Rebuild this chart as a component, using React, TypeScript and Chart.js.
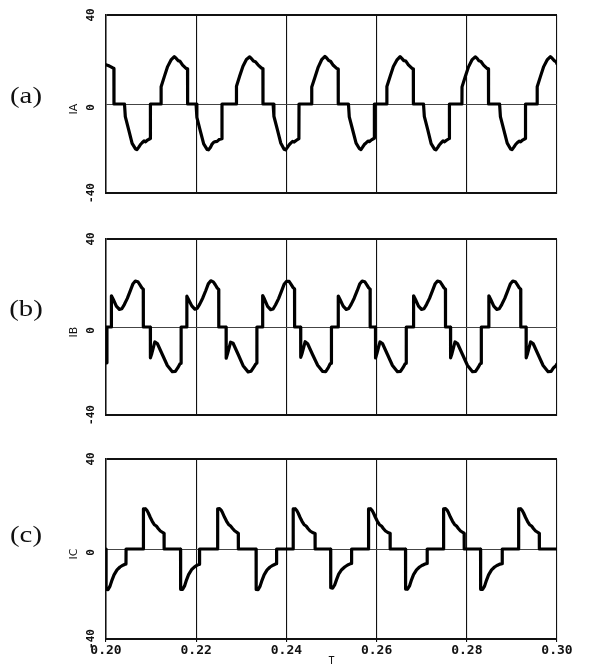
import { useEffect, useRef } from 'react';
import { Chart, registerables } from 'chart.js';

Chart.register(...registerables);

// ---- data (time in s, current) ----
const X_TICKS = [0.2, 0.22, 0.24, 0.26, 0.28, 0.3];
const Y_TICKS = [-40, 0, 40];
const PANEL_LABELS = ['(a)', '(b)', '(c)'];
const Y_TITLES = ['IA', 'IB', 'IC'];
const X_TITLE = 'T';

const IA: [number, number][] = [
  [0.2, 17.6], [0.2005, 17.3], [0.201, 16.8], [0.2015, 16.2], [0.20175, 16.0], [0.20177, 0],
  [0.2041, 0], [0.20428, -5.7], [0.20505, -11.7], [0.20579, -17.7], [0.20654, -20.2], [0.20687, -20.5], [0.20727, -19.4], [0.20765, -18.2], [0.20801, -17.4], [0.20843, -16.6], [0.20876, -17.0], [0.2092, -16.2], [0.20982, -15.5], [0.20985, 0],
  [0.2122, 0], [0.21222, 7.8], [0.21293, 12.3], [0.21366, 16.8], [0.21442, 19.8], [0.21515, 21.3], [0.21553, 20.6], [0.21597, 19.5], [0.21642, 19.2], [0.21699, 17.5], [0.21775, 16.0], [0.21808, 15.8], [0.2181, 0],
  [0.21997, 0], [0.22015, -6.0], [0.22092, -12.2], [0.22166, -17.9], [0.22241, -20.4], [0.22274, -20.6], [0.22314, -19.6], [0.22352, -18.0], [0.22388, -17.2], [0.2243, -16.9], [0.22463, -16.8], [0.22507, -16.0], [0.22569, -15.6], [0.22572, 0],
  [0.22891, 0], [0.22893, 8.0], [0.22964, 12.6], [0.23037, 17.0], [0.23113, 20.0], [0.23186, 21.2], [0.23224, 20.4], [0.23268, 19.3], [0.23313, 19.0], [0.2337, 17.6], [0.23446, 16.2], [0.23479, 15.9], [0.23481, 0],
  [0.23705, 0], [0.23723, -5.5], [0.238, -11.5], [0.23874, -17.5], [0.23949, -20.3], [0.23982, -20.6], [0.24022, -19.5], [0.2406, -18.4], [0.24096, -17.6], [0.24138, -16.8], [0.24171, -17.1], [0.24215, -16.4], [0.24277, -15.6], [0.2428, 0],
  [0.2456, 0], [0.24562, 7.6], [0.24633, 12.0], [0.24706, 16.6], [0.24782, 19.9], [0.24855, 21.4], [0.24893, 20.7], [0.24937, 19.6], [0.24982, 19.1], [0.25039, 17.4], [0.25115, 16.0], [0.25148, 15.7], [0.2515, 0],
  [0.25376, 0], [0.25394, -5.8], [0.25471, -11.8], [0.25545, -17.6], [0.2562, -20.1], [0.25653, -20.5], [0.25693, -19.3], [0.25731, -18.1], [0.25767, -17.5], [0.25809, -16.7], [0.25842, -16.9], [0.25886, -16.1], [0.25948, -15.4], [0.25951, 0],
  [0.26226, 0], [0.26228, 7.9], [0.26299, 12.4], [0.26372, 16.9], [0.26448, 19.7], [0.26521, 21.3], [0.26559, 20.5], [0.26603, 19.5], [0.26648, 19.3], [0.26705, 17.6], [0.26781, 16.1], [0.26814, 15.8], [0.26816, 0],
  [0.2704, 0], [0.27058, -5.6], [0.27135, -11.6], [0.27209, -17.8], [0.27284, -20.3], [0.27317, -20.6], [0.27357, -19.5], [0.27395, -18.3], [0.27431, -17.5], [0.27473, -16.6], [0.27506, -17.0], [0.2755, -16.3], [0.27612, -15.5], [0.27615, 0],
  [0.27892, 0], [0.27894, 7.7], [0.27965, 12.2], [0.28038, 16.7], [0.28114, 19.8], [0.28187, 21.2], [0.28225, 20.6], [0.28269, 19.4], [0.28314, 19.1], [0.28371, 17.5], [0.28447, 16.0], [0.2848, 15.8], [0.28482, 0],
  [0.28727, 0], [0.28745, -5.7], [0.28822, -11.7], [0.28896, -17.6], [0.28971, -20.2], [0.29004, -20.5], [0.29044, -19.4], [0.29082, -18.2], [0.29118, -17.4], [0.2916, -16.7], [0.29193, -17.0], [0.29237, -16.2], [0.29299, -15.5], [0.29302, 0],
  [0.29559, 0], [0.29561, 7.8], [0.29632, 12.3], [0.29705, 16.8], [0.29781, 19.8], [0.29854, 21.3], [0.29892, 20.6], [0.29936, 19.5], [0.29981, 19.0], [0.3, 18.0],
];

const IB: [number, number][] = [
  [0.2, -16.3], [0.2002, -16.0], [0.20022, 0],
  [0.20118, 0], [0.2012, 14.2], [0.20162, 12.5], [0.20229, 9.5], [0.20296, 8.0], [0.20351, 8.3], [0.20406, 10.2], [0.20473, 13.0], [0.2054, 16.5], [0.20595, 19.5], [0.20651, 20.9], [0.20706, 20.6], [0.2075, 19.3], [0.20795, 17.8], [0.20826, 17.2], [0.20828, 0],
  [0.20983, 0], [0.20985, -14.0], [0.21016, -12.0], [0.21083, -6.8], [0.21138, -7.5], [0.21249, -12.5], [0.2136, -17.5], [0.21471, -20.3], [0.21538, -20.2], [0.21593, -18.5], [0.21638, -16.8], [0.21664, -16.5], [0.21666, 0],
  [0.21791, 0], [0.21793, 14.0], [0.21835, 12.3], [0.21902, 9.6], [0.21969, 8.1], [0.22024, 8.5], [0.22079, 10.4], [0.22146, 13.2], [0.22213, 16.6], [0.22268, 19.6], [0.22324, 21.0], [0.22379, 20.5], [0.22423, 19.2], [0.22468, 17.7], [0.22499, 17.1], [0.22501, 0],
  [0.22663, 0], [0.22665, -14.2], [0.22696, -12.1], [0.22763, -6.9], [0.22818, -7.4], [0.22929, -12.4], [0.2304, -17.6], [0.23151, -20.4], [0.23218, -20.1], [0.23273, -18.4], [0.23318, -16.9], [0.23344, -16.4], [0.23346, 0],
  [0.23472, 0], [0.23474, 14.3], [0.23516, 12.6], [0.23583, 9.4], [0.2365, 7.9], [0.23705, 8.2], [0.2376, 10.1], [0.23827, 12.9], [0.23894, 16.4], [0.23949, 19.4], [0.24005, 20.8], [0.2406, 20.7], [0.24104, 19.4], [0.24149, 17.9], [0.2418, 17.3], [0.24182, 0],
  [0.24316, 0], [0.24318, -13.8], [0.24349, -11.9], [0.24416, -6.7], [0.24471, -7.6], [0.24582, -12.6], [0.24693, -17.4], [0.24804, -20.2], [0.24871, -20.3], [0.24926, -18.6], [0.24971, -16.7], [0.24997, -16.5], [0.24999, 0],
  [0.25148, 0], [0.2515, 14.1], [0.25192, 12.4], [0.25259, 9.5], [0.25326, 8.0], [0.25381, 8.4], [0.25436, 10.3], [0.25503, 13.1], [0.2557, 16.5], [0.25625, 19.5], [0.25681, 20.9], [0.25736, 20.6], [0.2578, 19.3], [0.25825, 17.8], [0.25856, 17.2], [0.25858, 0],
  [0.25975, 0], [0.25977, -14.1], [0.26008, -12.0], [0.26075, -6.8], [0.2613, -7.5], [0.26241, -12.5], [0.26352, -17.5], [0.26463, -20.3], [0.2653, -20.2], [0.26585, -18.5], [0.2663, -16.8], [0.26656, -16.5], [0.26658, 0],
  [0.26818, 0], [0.2682, 14.2], [0.26862, 12.5], [0.26929, 9.5], [0.26996, 8.0], [0.27051, 8.3], [0.27106, 10.2], [0.27173, 13.0], [0.2724, 16.5], [0.27295, 19.5], [0.27351, 20.9], [0.27406, 20.6], [0.2745, 19.3], [0.27495, 17.8], [0.27526, 17.2], [0.27528, 0],
  [0.27639, 0], [0.27641, -14.0], [0.27672, -12.0], [0.27739, -6.8], [0.27794, -7.5], [0.27905, -12.5], [0.28016, -17.5], [0.28127, -20.3], [0.28194, -20.2], [0.28249, -18.5], [0.28294, -16.8], [0.2832, -16.5], [0.28322, 0],
  [0.28487, 0], [0.28489, 14.2], [0.28531, 12.5], [0.28598, 9.5], [0.28665, 8.0], [0.2872, 8.3], [0.28775, 10.2], [0.28842, 13.0], [0.28909, 16.5], [0.28964, 19.5], [0.2902, 20.9], [0.29075, 20.6], [0.29119, 19.3], [0.29164, 17.8], [0.29195, 17.2], [0.29197, 0],
  [0.29315, 0], [0.29317, -14.0], [0.29348, -12.0], [0.29415, -6.8], [0.2947, -7.5], [0.29581, -12.5], [0.29692, -17.5], [0.29803, -20.3], [0.2987, -20.2], [0.29925, -18.5], [0.29975, -17.6], [0.3, -16.8],
];

const IC: [number, number][] = [
  [0.2, 0], [0.20002, -18.0], [0.20044, -18.1], [0.20089, -16.5], [0.20133, -13.8], [0.20178, -11.5], [0.20244, -9.3], [0.20311, -8.0], [0.20377, -7.2], [0.20433, -6.7], [0.20443, -6.6], [0.20445, 0],
  [0.20828, 0], [0.2083, 17.8], [0.20872, 17.9], [0.20906, 17.2], [0.20939, 16.0], [0.20983, 14.0], [0.21028, 12.2], [0.21072, 10.8], [0.21116, 10.2], [0.21161, 9.0], [0.21205, 8.0], [0.21272, 7.2], [0.21287, 7.0], [0.21289, 0],
  [0.21653, 0], [0.21655, -17.9], [0.21697, -18.0], [0.21742, -16.4], [0.21786, -13.7], [0.21831, -11.4], [0.21897, -9.2], [0.21964, -7.9], [0.2203, -7.1], [0.22073, -6.8], [0.22075, 0],
  [0.22474, 0], [0.22476, 17.9], [0.22518, 18.0], [0.22552, 17.3], [0.22585, 16.1], [0.22629, 14.1], [0.22674, 12.3], [0.22718, 10.9], [0.22762, 10.2], [0.22807, 9.1], [0.22851, 8.1], [0.22918, 7.2], [0.22933, 7.0], [0.22935, 0],
  [0.23328, 0], [0.2333, -18.0], [0.23372, -18.1], [0.23417, -16.5], [0.23461, -13.8], [0.23506, -11.5], [0.23572, -9.3], [0.23639, -8.0], [0.23705, -7.2], [0.23761, -6.7], [0.23781, -6.5], [0.23783, 0],
  [0.24149, 0], [0.24151, 17.8], [0.24193, 17.9], [0.24227, 17.2], [0.2426, 16.0], [0.24304, 14.0], [0.24349, 12.2], [0.24393, 10.8], [0.24437, 10.2], [0.24482, 9.0], [0.24526, 8.0], [0.24593, 7.2], [0.24635, 6.9], [0.24637, 0],
  [0.24981, 0], [0.24983, -17.2], [0.25025, -17.4], [0.2507, -16.0], [0.25114, -13.5], [0.25159, -11.2], [0.25225, -9.2], [0.25292, -8.0], [0.25358, -7.1], [0.25414, -6.6], [0.25444, -6.4], [0.25446, 0],
  [0.2582, 0], [0.25822, 17.8], [0.25864, 17.9], [0.25898, 17.2], [0.25931, 16.0], [0.25975, 14.0], [0.2602, 12.2], [0.26064, 10.8], [0.26108, 10.2], [0.26153, 9.0], [0.26197, 8.0], [0.26264, 7.2], [0.26299, 7.0], [0.26301, 0],
  [0.26641, 0], [0.26643, -17.8], [0.26685, -17.9], [0.2673, -16.4], [0.26774, -13.7], [0.26819, -11.4], [0.26885, -9.3], [0.26952, -8.0], [0.27018, -7.2], [0.27074, -6.7], [0.2712, -6.4], [0.27122, 0],
  [0.27484, 0], [0.27486, 17.9], [0.27528, 18.0], [0.27562, 17.3], [0.27595, 16.1], [0.27639, 14.1], [0.27684, 12.3], [0.27728, 10.9], [0.27772, 10.2], [0.27817, 9.0], [0.27861, 8.0], [0.27928, 7.2], [0.27941, 7.0], [0.27943, 0],
  [0.28305, 0], [0.28307, -17.9], [0.28349, -18.0], [0.28394, -16.5], [0.28438, -13.8], [0.28483, -11.5], [0.28549, -9.3], [0.28616, -8.0], [0.28682, -7.2], [0.28738, -6.7], [0.28784, -6.5], [0.28786, 0],
  [0.29148, 0], [0.2915, 17.8], [0.29192, 17.9], [0.29226, 17.2], [0.29259, 16.0], [0.29303, 14.0], [0.29348, 12.2], [0.29392, 10.8], [0.29436, 10.2], [0.29481, 9.0], [0.29525, 8.0], [0.29592, 7.2], [0.29607, 7.0], [0.29609, 0],
  [0.3, 0],
];

const SERIES = [IA, IB, IC];

// ---- layout ----
const PANELS = [
  { top: 0, height: 220, padTop: 15, padBottom: 27, labelDy: -7, showX: false },
  { top: 220, height: 220, padTop: 19, padBottom: 25, labelDy: -17, showX: false },
  { top: 440, height: 227, padTop: 19, padBottom: 0, labelDy: -13, showX: true },
];

const INK = '#111';

function makeTextPlugin(idx: number) {
  return {
    id: 'panelText' + idx,
    afterDraw(chart: any) {
      const { ctx } = chart;
      const ys = chart.scales.y;
      const y0 = ys.getPixelForValue(0);
      ctx.save();
      ctx.fillStyle = INK;
      ctx.textAlign = 'center';
      ctx.textBaseline = 'middle';
      // panel label
      ctx.font = '23px "Liberation Serif", serif';
      ctx.save();
      ctx.translate(26, y0 + PANELS[idx].labelDy);
      ctx.scale(1.25, 1);
      ctx.fillText(PANEL_LABELS[idx], 0, 0);
      ctx.restore();
      // y tick labels (rotated)
      ctx.font = 'bold 11px "DejaVu Sans Mono", monospace';
      for (const v of Y_TICKS) {
        ctx.save();
        ctx.translate(91.5, ys.getPixelForValue(v) + (v === 0 ? 3.5 : 0));
        ctx.rotate(-Math.PI / 2);
        ctx.fillText(String(v), 0, 0);
        ctx.restore();
      }
      // y title
      ctx.font = '11px "DejaVu Sans", sans-serif';
      ctx.save();
      ctx.translate(74, y0 + 5);
      ctx.rotate(-Math.PI / 2);
      ctx.fillText(Y_TITLES[idx], 0, 0);
      ctx.restore();
      ctx.restore();
    },
  };
}

function Panel({ idx }: { idx: number }) {
  const ref = useRef<HTMLCanvasElement | null>(null);
  useEffect(() => {
    const p = PANELS[idx];
    const canvas = ref.current!;
    const chart = new Chart(canvas, {
      type: 'line',
      data: {
        datasets: [
          {
            data: SERIES[idx].map(([x, y]) => ({ x, y })),
            borderColor: '#000',
            borderWidth: 3.2,
            pointRadius: 0,
            tension: 0,
            fill: false,
            borderJoinStyle: 'round',
            borderCapStyle: 'round',
          },
        ],
      },
      options: {
        animation: false,
        responsive: false,
        devicePixelRatio: 1,
        events: [],
        layout: { padding: { left: 106, right: 32, top: p.padTop, bottom: p.padBottom } },
        plugins: { legend: { display: false }, tooltip: { enabled: false } },
        scales: {
          x: {
            type: 'linear',
            min: 0.2,
            max: 0.3,
            afterBuildTicks: (s: any) => {
              s.ticks = X_TICKS.map((v) => ({ value: v }));
            },
            afterFit: (s: any) => {
              s.height = p.showX ? 28 : 0;
            },
            grid: { color: INK, lineWidth: 1.1, drawTicks: p.showX, tickLength: 3, tickColor: INK },
            border: { display: true, color: INK, width: 2 },
            ticks: {
              display: p.showX,
              padding: 1,
              color: INK,
              font: { family: '"DejaVu Sans Mono", monospace', size: 13, weight: 'bold' },
              callback: (v: any) => Number(v).toFixed(2),
            },
            title: {
              display: p.showX,
              text: X_TITLE,
              color: INK,
              font: { family: '"DejaVu Sans Mono", monospace', size: 10 },
              padding: 0,
            },
          },
          y: {
            min: -40,
            max: 40,
            afterBuildTicks: (s: any) => {
              s.ticks = Y_TICKS.map((v) => ({ value: v }));
            },
            afterFit: (s: any) => {
              s.width = 0;
            },
            ticks: { display: false },
            grid: {
              drawTicks: false,
              color: (c: any) => (c.tick && c.tick.value === 0 ? '#444' : INK),
              lineWidth: (c: any) => (c.tick && c.tick.value === 0 ? 1 : 2),
            },
            border: { display: true, color: INK, width: 1.5 },
          },
        },
      } as any,
      plugins: [makeTextPlugin(idx)],
    });
    return () => chart.destroy();
  }, [idx]);
  const p = PANELS[idx];
  return (
    <canvas
      ref={ref}
      width={589}
      height={p.height}
      style={{ position: 'absolute', left: 0, top: p.top, width: 589, height: p.height }}
    />
  );
}

export default function App() {
  return (
    <div style={{ position: 'fixed', left: 0, top: 0, width: 589, height: 667, background: '#fff' }}>
      <Panel idx={0} />
      <Panel idx={1} />
      <Panel idx={2} />
    </div>
  );
}
